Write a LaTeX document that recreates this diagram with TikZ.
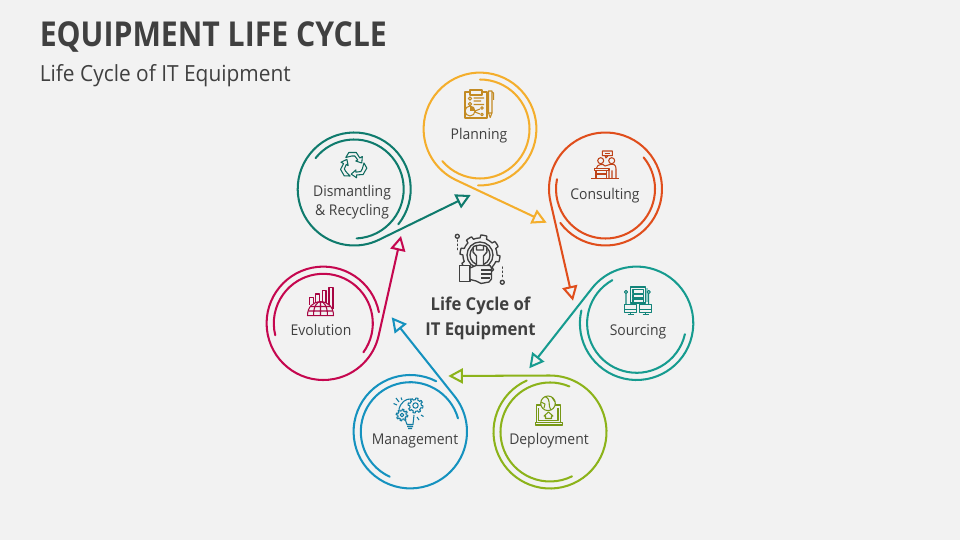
\documentclass[tikz,border=0pt]{standalone}
\usepackage{fontspec}
\setmainfont[FakeStretch=.94]{Open Sans}
\newfontfamily\headfont[FakeStretch=.88]{Open Sans}
\usetikzlibrary{arrows.meta}
\definecolor{pagebg}{HTML}{F2F2F2}
\definecolor{textclr}{HTML}{404040}
\definecolor{planclr}{HTML}{F4AE2C}
\definecolor{consclr}{HTML}{E04E1C}
\definecolor{sourclr}{HTML}{169B8F}
\definecolor{deplclr}{HTML}{8CB31A}
\definecolor{mangclr}{HTML}{1592BF}
\definecolor{evolclr}{HTML}{C5074F}
\definecolor{dismclr}{HTML}{0F7B6D}
% one gear outline: options, centre, radius, tooth height, teeth
\newcommand{\gearicon}[5]{\draw[#1,shift={(#2)},fill=pagebg] plot[domain=0:360,samples=145] (\x:{#3+#4*(sin(#5*\x)>0)}) -- cycle;}
\tikzset{
  ringline/.style = {line width=1.45pt, line cap=round, line join=round},
  iconline/.style = {line width=.75pt, line join=round},
  stagelabel/.style = {font=\fontsize{10.55pt}{13.6pt}\selectfont, text=textclr, align=center, inner sep=0pt},
  > = {Triangle[open,length=10.4pt,width=10.8pt]}
}
\begin{document}
\begin{tikzpicture}[x=.025cm,y=.025cm]
  \fill[pagebg] (0,0) rectangle (960,540);
  \useasboundingbox (0,0) rectangle (960,540);
  \coordinate (planning) at (480,411);
  \coordinate (consulting) at (605.5,351);
  \coordinate (sourcing) at (636.6,216.7);
  \coordinate (deployment) at (550,108);
  \coordinate (management) at (410.3,108.3);
  \coordinate (evolution) at (323.3,216.7);
  \coordinate (dismantling) at (354.2,351);
  \coordinate (planningtip) at (546.7,317.3);
  \coordinate (consultingtip) at (573,239.3);
  \coordinate (sourcingtip) at (529.3,171.7);
  \coordinate (deploymenttip) at (448.3,164);
  \coordinate (managementtip) at (391.7,222.7);
  \coordinate (evolutiontip) at (401,304);
  \coordinate (dismantlingtip) at (470.7,345);

  % rings, each running out into its arrow
  \draw[ringline,planclr,->] (planning) ++(-92:56.4) arc[start angle=-92,end angle=244.7,radius=56.4] -- (planningtip);
  \draw[ringline,planclr] (planning) ++(90:49.5) arc[start angle=90,end angle=-139.6,radius=49.5];
  \draw[ringline,consclr,->] (consulting) ++(-143.1:56.5) arc[start angle=-143.1,end angle=192.9,radius=56.5] -- (consultingtip);
  \draw[ringline,consclr] (consulting) ++(39.6:49.5) arc[start angle=39.6,end angle=-191.4,radius=49.5];
  \draw[ringline,sourclr,->] (sourcing) ++(167:56.7) arc[start angle=167,end angle=502,radius=56.7] -- (sourcingtip);
  \draw[ringline,sourclr] (sourcing) ++(119.3:49.5) arc[start angle=119.3,end angle=347.3,radius=49.5];
  \draw[ringline,deplclr,->] (deployment) ++(114.4:56.5) arc[start angle=114.4,end angle=450.3,radius=56.5] -- (deploymenttip);
  \draw[ringline,deplclr] (deployment) ++(66.9:49.5) arc[start angle=66.9,end angle=296.4,radius=49.5];
  \draw[ringline,mangclr,->] (management) ++(62.8:56.7) arc[start angle=62.8,end angle=398.5,radius=56.7] -- (managementtip);
  \draw[ringline,mangclr] (management) ++(15.6:49.5) arc[start angle=15.6,end angle=245.4,radius=49.5];
  \draw[ringline,evolclr,->] (evolution) ++(11.3:56.7) arc[start angle=11.3,end angle=347.3,radius=56.7] -- (evolutiontip);
  \draw[ringline,evolclr] (evolution) ++(-35.9:49.5) arc[start angle=-35.9,end angle=193.9,radius=49.5];
  \draw[ringline,dismclr,->] (dismantling) ++(-38.7:56.5) arc[start angle=-38.7,end angle=296.1,radius=56.5] -- (dismantlingtip);
  \draw[ringline,dismclr] (dismantling) ++(141.4:49.5) arc[start angle=141.4,end angle=-87.1,radius=49.5];

  % from here on y runs downwards, as in the reference's pixels
  \begin{scope}[shift={(0,540)},yscale=-1]
    \node[anchor=west,inner sep=0pt,text=textclr,font=\headfont\fontsize{24.4pt}{28pt}\selectfont\bfseries] (title) at (39.5,37) {EQUIPMENT LIFE CYCLE};
    \node[anchor=west,inner sep=0pt,text=textclr,font=\fontsize{15.8pt}{18pt}\selectfont] (subtitle) at (39.5,76) {Life Cycle of IT Equipment};
    \node[stagelabel] (planninglabel) at (479,136) {Planning};
    \node[stagelabel] (consultinglabel) at (605,196) {Consulting};
    \node[stagelabel] (sourcinglabel) at (638,332) {Sourcing};
    \node[stagelabel] (deploymentlabel) at (549,441) {Deployment};
    \node[stagelabel] (managementlabel) at (415,441) {Management};
    \node[stagelabel] (evolutionlabel) at (321,330) {Evolution};
    \node[stagelabel] (dismantlinglabel) at (352,202.5) {Dismantling\\\& Recycling};
    \node[align=center,inner sep=0pt,text=textclr,font=\fontsize{12.6pt}{17.5pt}\selectfont\bfseries] (centrelabel) at (480.5,318.2) {Life Cycle of\\IT Equipment};

    % planning icon
    \begin{scope}[iconline,draw=planclr!80!black]
      \draw (465,92) rectangle (487,118);
      \draw[fill=pagebg] (470,90) rectangle (482,95);
      \draw (470,98.5) circle (1.7) (470,104) circle (1.7) (470,111) circle (5) (482,108) circle (1.3) (482,114.5) circle (1.3);
      \draw (473.5,98) -- (484,98) (473.5,101) -- (481,101) (473.5,104.5) -- (484,104.5) (475,111) -- (480,109) (475,112) -- (480,114);
      \fill[planclr!80!black] (470,111) -- (470,106) arc[start angle=-90,end angle=0,radius=5] -- cycle;
      \draw (488.5,91) rectangle (492,113) (488.5,113) -- (490.2,117.5) -- (492,113) (492,92) -- (493.6,93) -- (493.6,100);
    \end{scope}
    % consulting icon
    \begin{scope}[iconline,draw=consclr!85!black]
      \draw (591,178.3) -- (619,178.3);
      \draw (602.3,151) rectangle (612.3,155.7) (605,155.7) -- (606,158) -- (608,155.7);
      \draw (604.5,153.3) -- (610,153.3);
      \draw (600.7,160.7) circle (3) (611.7,160.7) circle (3);
      \draw (594.3,168.3) rectangle (609,170.5) (596,170.5) -- (596,178.3) (606.7,170.5) -- (606.7,178.3) (596,174) -- (606.7,174);
      \draw (596.5,168.3) .. controls (596.5,164) and (604,163.5) .. (605,166) (605,166) -- (610,164.5) .. controls (614,163.5) and (616,165) .. (616,169) -- (616,178.3) (609,170.5) -- (609,178.3) (612,170.5) -- (612,178.3);
    \end{scope}
    % sourcing icon
    \begin{scope}[iconline,draw=sourclr!85!black]
      \fill[sourclr!45!pagebg] (645.7,288) rectangle (648,302);
      \draw (630.7,287) rectangle (645.7,303);
      \draw (633,289.5) rectangle (643.5,293.5) (633,294.5) rectangle (643.5,298) (633,299) rectangle (643.5,302.5);
      \draw (626,294) -- (626,304.7) (648.7,294) -- (648.7,304.7) (626,292) circle (1.6) (648.7,292) circle (1.6);
      \draw[fill=pagebg] (624.7,304.7) rectangle (636.3,312.7) (639.7,304.7) rectangle (651.3,312.7);
      \draw (624.7,309.5) -- (636.3,309.5) (639.7,309.5) -- (651.3,309.5) (630.5,312.7) -- (630.5,314.5) (627.5,314.5) -- (633.5,314.5) (645.5,312.7) -- (645.5,314.5) (642.5,314.5) -- (648.5,314.5);
    \end{scope}
    % deployment icon
    \begin{scope}[iconline,draw=deplclr!85!black]
      \draw (536.3,422.5) -- (536.3,405) -- (560.3,405) -- (560.3,422.5);
      \draw (538.5,420.5) -- (538.5,407.5) (558,407.5) -- (558,420.5) -- (538.5,420.5);
      \draw (535.3,422.5) rectangle (562.3,425);
      \draw[fill=pagebg] (548,403.3) circle (7.3);
      \draw (545,396.5) .. controls (552,400) and (547,404) .. (551,410) (541,402) -- (545,404) -- (544,408) (552,397.5) -- (555,402);
      \draw (545.5,418.5) -- (545.5,416) -- (544,416) -- (548.5,412) -- (553,416) -- (551.5,416) -- (551.5,418.5) -- cycle;
    \end{scope}
    % management icon
    \begin{scope}[iconline,draw=mangclr!85!black]
      \draw (399,409) .. controls (401,402) and (406,398.5) .. (411,399);
      \draw (405,419) -- (407,424.5) -- (413,424.5) -- (414,415) (407,426.5) -- (413,426.5) (408,428.5) -- (412,428.5);
      \gearicon{iconline,draw=mangclr!85!black}{415.5,405.5}{5.8}{1.7}{8}
      \draw (415.5,405.5) circle (2.7);
      \gearicon{iconline,draw=mangclr!85!black}{402,415}{4.2}{1.6}{8}
      \draw (402,415) circle (1.8);
      \draw (396,398) -- (399,402) (393.5,403.5) -- (397,405) (401,397.5) -- (402,400) (417,417) -- (419,420) (421,415) -- (423.5,416.5);
    \end{scope}
    % evolution icon
    \begin{scope}[iconline,draw=evolclr!85!black]
      \draw (309.3,305) -- (309.3,297.7) -- (313.3,297.7) -- (313.3,303) (315.3,302) -- (315.3,294) -- (319.3,294) -- (319.3,302) (322.3,302) -- (322.3,290.7) -- (326,290.7) -- (326,303) (329,305) -- (329,287.7) -- (333,287.7) -- (333,309);
      \draw (307.5,315.7) .. controls (307.5,307) and (313,301.7) .. (320.5,301.7) .. controls (328,301.7) and (333.5,307) .. (333.5,315.7) -- cycle;
      \draw (313.5,315.7) .. controls (313.5,306) and (317,301.7) .. (320.5,301.7) .. controls (324,301.7) and (327.5,306) .. (327.5,315.7) (320.5,301.7) -- (320.5,315.7) (308.5,311) -- (332.5,311) (311,306.5) -- (330,306.5);
    \end{scope}
    % dismantling icon
    \foreach \turn in {0,120,240}
      \draw[iconline,draw=dismclr!85!black,shift={(353.3,165.5)},rotate=\turn] (-4.5,-13) -- (3,-13) -- (6.5,-7.5) -- (9,-9) -- (8.5,-2.5) -- (2.5,-4.5) -- (4.5,-5.5) -- (1.5,-9.5) -- (-1.5,-9.5) -- (-7.5,-8) -- cycle;
    % centre icon
    \begin{scope}[iconline,line width=.95pt,draw=textclr]
      \gearicon{iconline,line width=.95pt,draw=textclr}{480,255}{17}{3}{8}
      \draw (480,255) circle (13) (480,255) circle (10);
      \draw[fill=pagebg] (476.5,272) -- (476.5,256) -- (473,252) -- (473.5,246.5) -- (476.5,245.5) -- (476.5,250) -- (483.5,250) -- (483.5,245.5) -- (486.5,246.5) -- (487,252) -- (483.5,256) -- (483.5,272);
      \draw[fill=pagebg] (459.3,265.7) rectangle (470,281.7);
      \draw[fill=pagebg] (470,268) -- (476,265.5) -- (490,265.5) -- (491.5,268) -- (491.5,279) -- (489,282) -- (481,283.5) -- (476,281) -- (470,279.5) -- cycle;
      \draw (481,270) -- (491,270) (481,274) -- (491,274) (481,278) -- (490,278);
      \draw (457.3,236.3) circle (2) (502.3,282.3) circle (2);
      \draw[dotted,line cap=round] (457.3,240) -- (457.3,250) (502.7,267) -- (502.7,278);
    \end{scope}
  \end{scope}
\end{tikzpicture}
\end{document}
